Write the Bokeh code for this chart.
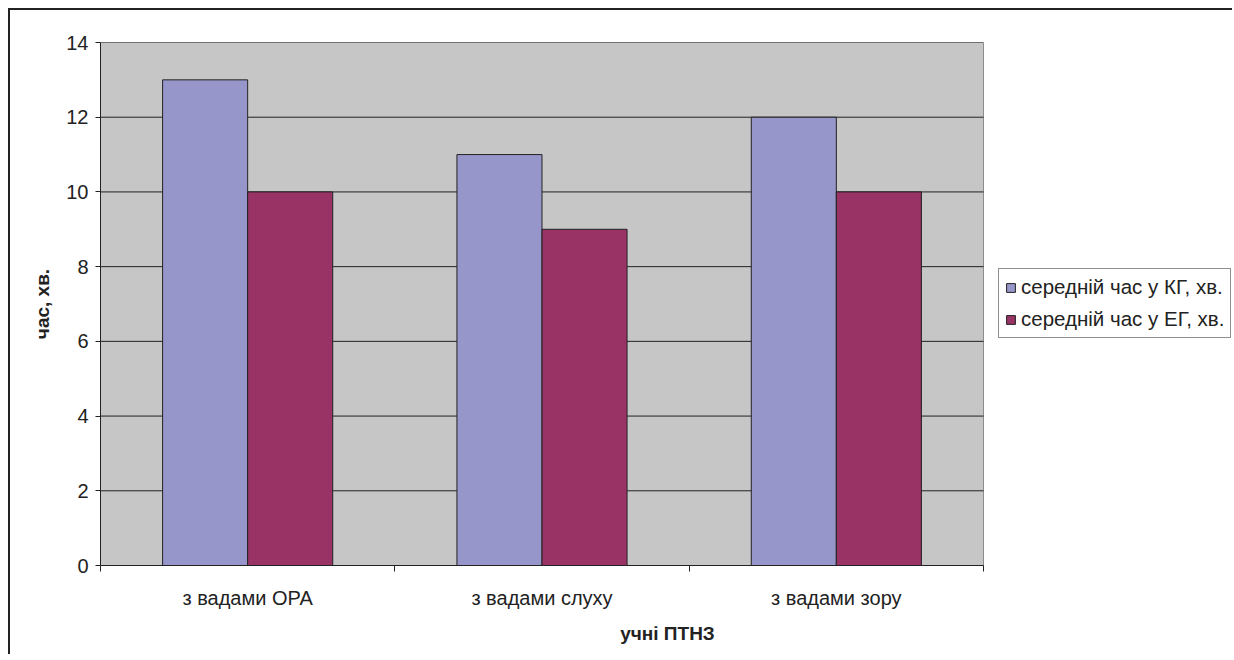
import numpy as np
from bokeh.plotting import figure
from bokeh.models import Range1d, FixedTicker, Legend, LegendItem, ColumnDataSource
from bokeh.embed import file_html
from bokeh.resources import INLINE

categories = ["з вадами ОРА", "з вадами слуху", "з вадами зору"]
kg_values = [13, 11, 12]
eg_values = [10, 9, 10]
series_names = ["середній час у КГ, хв.", "середній час у ЕГ, хв."]
y_ticks = [0, 2, 4, 6, 8, 10, 12, 14]

FONT = "Liberation Sans"
FS = "20px"
ncat = len(categories)
idx = np.arange(ncat)
bw = 0.289

W, H = 1224, 646
LEFT, TOP, BOTTOM = 90, 32, 91
frame_w = W - LEFT
area_w = 883.0  # pixel width of the category area
x_end = ncat * frame_w / area_w

p = figure(width=W, height=H, output_backend="svg", toolbar_location=None,
           x_range=Range1d(0, x_end), y_range=Range1d(0, 14),
           min_border_left=LEFT, min_border_top=TOP, min_border_bottom=BOTTOM,
           min_border_right=0)
p.styles = {"margin": "8px 0 0 8px", "border-top": "2px solid #222",
            "border-left": "2px solid #222"}
p.background_fill_color = "white"
p.border_fill_color = "white"
p.outline_line_color = None

# plot area
p.quad(left=[0], right=[ncat], bottom=[y_ticks[0]], top=[y_ticks[-1]],
       fill_color="#C6C6C6", line_color="#8C8C8C", line_width=1)
# horizontal grid lines
p.segment(x0=[0] * len(y_ticks), x1=[ncat] * len(y_ticks), y0=y_ticks, y1=y_ticks,
          line_color="#222222", line_width=1)

src_kg = ColumnDataSource(dict(x=idx + 0.5 - bw / 2, top=kg_values))
src_eg = ColumnDataSource(dict(x=idx + 0.5 + bw / 2, top=eg_values))
r1 = p.vbar(x="x", top="top", width=bw, source=src_kg, fill_color="#9696CA",
            line_color="#222222", line_width=1)
r2 = p.vbar(x="x", top="top", width=bw, source=src_eg, fill_color="#993366",
            line_color="#222222", line_width=1)

# y axis
p.yaxis.ticker = FixedTicker(ticks=y_ticks, minor_ticks=[])
p.yaxis.axis_line_color = "#222222"
p.yaxis.major_tick_in = 0
p.yaxis.major_tick_out = 5
p.yaxis.major_tick_line_color = "#222222"
p.yaxis.major_label_text_font = FONT
p.yaxis.major_label_text_font_size = FS
p.yaxis.major_label_text_color = "#222222"
p.yaxis.major_label_standoff = 7
p.yaxis.axis_label = "час, хв."
p.yaxis.axis_label_text_font = FONT
p.yaxis.axis_label_text_font_size = "19px"
p.yaxis.axis_label_text_font_style = "bold"
p.yaxis.axis_label_text_color = "#222222"
p.yaxis.axis_label_standoff = 10

# x axis
p.xaxis.bounds = (0, ncat)
p.xaxis.ticker = FixedTicker(ticks=list(idx + 0.5), minor_ticks=list(range(ncat + 1)))
p.xaxis.major_label_overrides = {float(i + 0.5): c for i, c in enumerate(categories)}
p.xaxis.axis_line_color = "#222222"
p.xaxis.major_tick_line_color = None
p.xaxis.minor_tick_line_color = "#222222"
p.xaxis.minor_tick_in = 0
p.xaxis.minor_tick_out = 6
p.xaxis.major_label_text_font = FONT
p.xaxis.major_label_text_font_size = FS
p.xaxis.major_label_text_color = "#222222"
p.xaxis.major_label_standoff = 15
p.xaxis.axis_label = "учні ПТНЗ"
p.xaxis.axis_label_text_font = FONT
p.xaxis.axis_label_text_font_size = "19px"
p.xaxis.axis_label_text_font_style = "bold"
p.xaxis.axis_label_text_color = "#222222"
p.xaxis.axis_label_standoff = 11

p.xgrid.grid_line_color = None
p.ygrid.grid_line_color = None

legend = Legend(items=[LegendItem(label=series_names[0], renderers=[r1]),
                       LegendItem(label=series_names[1], renderers=[r2])],
                location=(898, 227))
legend.label_text_font = FONT
legend.label_text_font_size = "20.5px"
legend.label_text_color = "#222222"
legend.label_height = 20
legend.glyph_width = 11
legend.glyph_height = 11
legend.label_standoff = 5
legend.spacing = 8
legend.padding = 6
legend.margin = 0
legend.border_line_color = "#222222"
legend.border_line_width = 1
legend.background_fill_color = "white"
legend.background_fill_alpha = 1
p.add_layout(legend, "center")

open("out.html", "w").write(file_html(p, INLINE))
